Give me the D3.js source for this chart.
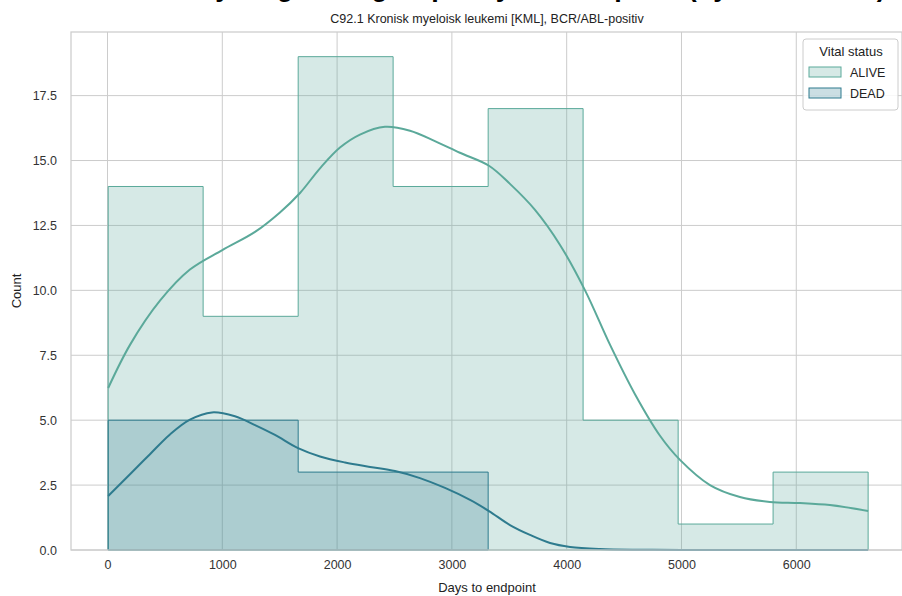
<!DOCTYPE html>
<html>
<head>
<meta charset="utf-8">
<script src="https://cdn.jsdelivr.net/npm/d3@7"></script>
<style>
  body { margin: 0; background: #fff; }
  svg { display: block; font-family: "Liberation Sans", Arial, sans-serif; }
</style>
</head>
<body>
<svg id="chart" width="902" height="596"></svg>
<script>
// ---- data ----
const binEdges = [6, 833, 1661, 2488, 3316, 4143, 4971, 5798, 6626];
const aliveCounts = [14, 9, 19, 14, 17, 5, 1, 3];
const deadCounts = [5, 5, 3, 3, 0, 0, 0, 0];
const kdeDays = [6, 196, 457, 718, 1000, 1285, 1502, 1677, 1851, 2025, 2199, 2417, 2635, 2852, 3070, 3323, 3506, 3724, 3942, 4160, 4378, 4595, 4813, 4987, 5248, 5509, 5770, 6032, 6293, 6626];
const aliveKde = [6.24, 7.9, 9.6, 10.8, 11.55, 12.25, 13.0, 13.75, 14.7, 15.5, 16.0, 16.3, 16.15, 15.75, 15.3, 14.8, 14.1, 13.1, 11.75, 10.0, 7.9, 6.0, 4.4, 3.47, 2.5, 2.04, 1.85, 1.81, 1.73, 1.5];
const deadKdeDays = [6, 196, 370, 544, 718, 910, 1110, 1285, 1459, 1660, 1851, 2069, 2287, 2504, 2722, 2940, 3158, 3323, 3506, 3680, 3855, 4029, 4291, 4639, 5000, 6626];
const deadKde = [2.08, 2.92, 3.69, 4.45, 5.02, 5.3, 5.15, 4.81, 4.43, 3.92, 3.6, 3.37, 3.2, 3.04, 2.77, 2.39, 1.93, 1.5, 0.96, 0.58, 0.27, 0.12, 0.04, 0.01, 0, 0];
const xTicks = [0, 1000, 2000, 3000, 4000, 5000, 6000];
const yTicks = [0, 2.5, 5, 7.5, 10, 12.5, 15, 17.5];
const groups = ["ALIVE", "DEAD"];
const colors = {ALIVE: "#5ba99a", DEAD: "#2e7b8e"};
const titleText = "Survival by diagnosis group: days to endpoint (by vital status)";
const subtitle = "C92.1 Kronisk myeloisk leukemi [KML], BCR/ABL-positiv";

// ---- layout ----
const svg = d3.select("#chart");
const L = 71, R = 902, T = 32, B = 550;
const x = d3.scaleLinear().domain([-318, 6921]).range([L, R]);
const y = d3.scaleLinear().domain([0, 19.95]).range([B, T]);

// clipped big title (only descenders show, as in the reference)
svg.append("text").attr("x", 486).attr("y", -4.5).attr("text-anchor", "middle")
  .attr("font-size", 27).attr("font-weight", "bold").attr("fill", "#000").text(titleText);

// grid
const g = svg.append("g");
g.selectAll(".vg").data(xTicks).join("line")
  .attr("x1", d => x(d)).attr("x2", d => x(d)).attr("y1", T).attr("y2", B)
  .attr("stroke", "#cccccc").attr("stroke-width", 1);
g.selectAll(".hg").data(yTicks).join("line")
  .attr("x1", L).attr("x2", R).attr("y1", d => y(d)).attr("y2", d => y(d))
  .attr("stroke", "#cccccc").attr("stroke-width", 1);

// step histograms
function stepPoints(counts) {
  const pts = [[binEdges[0], 0]];
  counts.forEach((c, i) => { pts.push([binEdges[i], c]); pts.push([binEdges[i + 1], c]); });
  pts.push([binEdges[counts.length], 0]);
  return pts;
}
function trimmed(counts) {
  let last = counts.length;
  while (last > 0 && counts[last - 1] === 0) last--;
  return counts.slice(0, last);
}
const line = d3.line().x(d => x(d[0])).y(d => y(d[1]));
[["ALIVE", aliveCounts], ["DEAD", trimmed(deadCounts)]].forEach(([k, c]) => {
  svg.append("path").attr("d", line(stepPoints(c)) + "Z")
    .attr("fill", colors[k]).attr("fill-opacity", 0.25)
    .attr("stroke", colors[k]).attr("stroke-width", 1);
});

// kde curves
const curve = d3.line().x(d => x(d[0])).y(d => y(d[1])).curve(d3.curveCatmullRom.alpha(0.5));
svg.append("path").attr("d", curve(kdeDays.map((d, i) => [d, aliveKde[i]])))
  .attr("fill", "none").attr("stroke", colors.ALIVE).attr("stroke-width", 2);
svg.append("path").attr("d", curve(deadKdeDays.map((d, i) => [d, deadKde[i]])))
  .attr("fill", "none").attr("stroke", colors.DEAD).attr("stroke-width", 2);

// spines
svg.append("rect").attr("x", L).attr("y", T).attr("width", R - L).attr("height", B - T)
  .attr("fill", "none").attr("stroke", "#cccccc").attr("stroke-width", 1.25);

// axes
const xAxis = d3.axisBottom(x).tickValues(xTicks).tickSize(0).tickPadding(10).tickFormat(d3.format("d"));
const gx = svg.append("g").attr("transform", `translate(0,${B})`).call(xAxis);
gx.select(".domain").remove();
gx.selectAll("text").attr("font-size", 12.5).attr("fill", "#333").attr("font-family", "Liberation Sans, Arial, sans-serif");
const yAxis = d3.axisLeft(y).tickValues(yTicks).tickSize(0).tickPadding(14).tickFormat(d3.format(".1f"));
const gy = svg.append("g").attr("transform", `translate(${L},0)`).call(yAxis);
gy.select(".domain").remove();
gy.selectAll("text").attr("font-size", 12.5).attr("fill", "#333").attr("font-family", "Liberation Sans, Arial, sans-serif");

// labels
svg.append("text").attr("x", 487).attr("y", 592).attr("text-anchor", "middle")
  .attr("font-size", 13).attr("fill", "#222").text("Days to endpoint");
svg.append("text").attr("transform", "translate(21,291) rotate(-90)").attr("text-anchor", "middle")
  .attr("font-size", 13).attr("fill", "#222").text("Count");
svg.append("text").attr("x", 487).attr("y", 23).attr("text-anchor", "middle")
  .attr("font-size", 12.5).attr("fill", "#222").text(subtitle);

// legend
const lg = svg.append("g").attr("transform", "translate(803,39)");
lg.append("rect").attr("width", 95).attr("height", 71).attr("rx", 3)
  .attr("fill", "#fff").attr("fill-opacity", 0.85).attr("stroke", "#cccccc");
lg.append("text").attr("x", 48).attr("y", 17).attr("text-anchor", "middle")
  .attr("font-size", 13).attr("fill", "#222").text("Vital status");
groups.forEach((k, i) => {
  const yy = 33 + i * 21;
  lg.append("rect").attr("x", 6).attr("y", yy - 5).attr("width", 32).attr("height", 10)
    .attr("fill", colors[k]).attr("fill-opacity", 0.25).attr("stroke", colors[k]).attr("stroke-width", 1);
  lg.append("text").attr("x", 47).attr("y", yy + 5).attr("font-size", 12.5).attr("fill", "#222").text(k);
});
</script>
</body>
</html>
